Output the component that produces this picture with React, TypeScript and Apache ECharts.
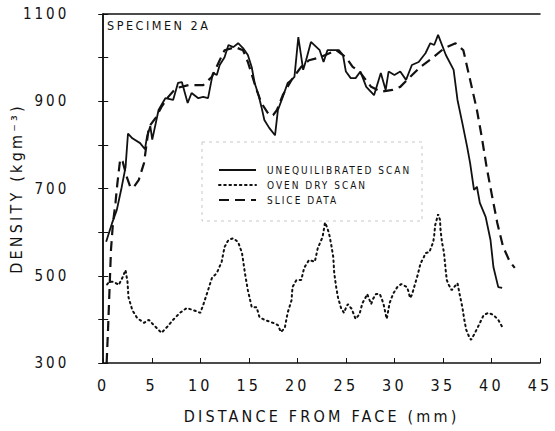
import React, { useEffect, useRef } from "react";
import * as echarts from "echarts";

const seriesNames = ["UNEQUILIBRATED SCAN", "OVEN DRY SCAN", "SLICE DATA"];

const unequilibrated: number[][] = [
  [0.3, 578], [0.9, 620], [1.4, 651], [1.9, 703], [2.3, 749], [2.55, 826], [3.0, 815], [3.8, 804],
  [4.3, 790], [4.5, 818], [4.85, 843], [5.05, 812], [5.7, 880], [6.4, 907], [7.2, 903], [7.7, 942],
  [8.1, 944], [8.7, 896], [9.1, 919], [9.8, 907], [10.3, 910], [10.8, 907], [11.3, 965], [11.7, 960],
  [12.0, 983], [12.5, 1001], [12.9, 1029], [13.4, 1024], [13.9, 1033], [14.4, 1022], [14.9, 1006],
  [15.3, 978], [15.6, 942], [16.0, 914], [16.3, 887], [16.6, 857], [17.1, 839], [17.7, 822],
  [18.0, 880], [18.5, 910], [19.0, 942], [19.4, 949], [19.7, 956], [20.1, 1047], [20.6, 972],
  [20.9, 994], [21.4, 1036], [22.3, 1017], [22.7, 990], [23.1, 1017], [24.3, 1017], [24.7, 1006],
  [25.0, 968], [25.5, 953], [26.0, 953], [26.5, 968], [27.1, 933], [27.9, 914], [28.6, 965],
  [29.1, 926], [29.4, 968], [30.0, 960], [30.6, 968], [31.2, 949], [31.8, 983], [32.5, 990],
  [33.2, 1010], [33.7, 1033], [34.1, 1029], [34.5, 1052], [35.3, 1006], [36.1, 972], [36.5, 903],
  [37.0, 850], [37.5, 795], [37.8, 758], [38.2, 697], [38.5, 704], [38.8, 667], [39.4, 635],
  [39.9, 582], [40.2, 520], [40.7, 474], [41.1, 472],
];

const ovenDry: number[][] = [
  [0.4, 480], [0.6, 486], [1.1, 486], [1.6, 479], [2.05, 499], [2.3, 513], [2.5, 486], [2.6, 451],
  [3.0, 421], [3.5, 403], [4.2, 392], [4.7, 399], [5.2, 387], [5.7, 376], [6.0, 369], [6.6, 383],
  [7.2, 399], [7.9, 415], [8.6, 426], [9.3, 421], [10.0, 415], [10.3, 433], [10.8, 467], [11.2, 495],
  [11.7, 506], [12.2, 532], [12.5, 566], [12.9, 582], [13.4, 586], [13.9, 577], [14.3, 552],
  [14.6, 506], [14.9, 467], [15.3, 428], [15.8, 428], [16.1, 405], [16.6, 399], [17.5, 392],
  [18.0, 387], [18.3, 371], [18.7, 380], [19.0, 415], [19.4, 444], [19.5, 474], [19.9, 490],
  [20.4, 490], [20.7, 518], [21.2, 536], [21.8, 532], [22.1, 563], [22.6, 589], [22.85, 622],
  [23.1, 609], [23.3, 593], [23.5, 570], [23.7, 543], [23.8, 506], [24.0, 474], [24.2, 449],
  [24.5, 426], [24.8, 415], [25.0, 426], [25.2, 435], [25.6, 424], [26.0, 401], [26.4, 412],
  [26.7, 437], [27.0, 449], [27.2, 458], [27.6, 435], [27.8, 447], [28.1, 458], [28.5, 458],
  [28.7, 447], [28.9, 433], [29.1, 412], [29.2, 401], [29.3, 412], [29.5, 437], [29.7, 449],
  [29.9, 460], [30.3, 474], [30.7, 481], [31.3, 474], [31.5, 460], [31.6, 449], [31.8, 456],
  [32.1, 479], [32.4, 502], [32.7, 529], [33.0, 541], [33.2, 552], [33.6, 554], [33.8, 566],
  [34.0, 577], [34.1, 593], [34.2, 616], [34.5, 641], [34.7, 628], [34.75, 605], [34.9, 577],
  [35.1, 554], [35.2, 532], [35.3, 509], [35.4, 490], [35.6, 479], [35.9, 467], [36.5, 483],
  [36.7, 460], [37.0, 428], [37.2, 399], [37.4, 376], [37.7, 360], [37.9, 353], [38.3, 369],
  [38.7, 387], [39.2, 410], [39.7, 415], [40.2, 410], [40.7, 399], [41.1, 383],
];

const sliceData: number[][] = [
  [0.35, 300], [0.5, 380], [0.65, 470], [0.8, 560], [1.0, 620], [1.26, 667], [1.45, 710],
  [1.75, 768], [2.0, 762], [2.4, 728], [2.8, 703], [3.1, 702], [3.65, 719], [4.2, 758], [4.7, 841],
  [5.4, 862], [6.0, 887], [6.7, 910], [7.5, 930], [8.8, 937], [10.3, 937], [11.2, 956], [12.0, 994],
  [12.5, 1017], [13.6, 1024], [14.4, 1017], [14.9, 990], [15.8, 926], [16.3, 896], [17.1, 868],
  [17.5, 868], [17.9, 880], [18.5, 914], [19.4, 949], [20.4, 979], [21.2, 994], [22.4, 1001],
  [24.0, 1017], [25.0, 1001], [25.7, 979], [26.4, 968], [27.6, 933], [28.6, 922], [29.8, 926],
  [30.6, 933], [31.5, 953], [32.7, 979], [33.9, 999], [35.1, 1021], [36.3, 1033], [37.1, 1017],
  [37.8, 949], [38.5, 880], [39.0, 818], [39.5, 749], [40.0, 690], [40.6, 621], [41.2, 566],
  [41.9, 532], [42.4, 518],
];

const FONT = "'DejaVu Sans Condensed', 'DejaVu Sans', sans-serif";
const INK = "#111";

export default function App() {
  const ref = useRef<HTMLDivElement>(null);
  useEffect(() => {
    if (!ref.current) return;
    const chart = echarts.init(ref.current, undefined, { renderer: "svg" });
    const lineBase = { type: "line" as const, showSymbol: false, symbol: "none", silent: true };
    chart.setOption({
      animation: false,
      backgroundColor: "#fff",
      textStyle: { fontFamily: FONT, color: INK },
      grid: { left: 101, right: 15, top: 14, bottom: 68 },
      legend: {
        orient: "vertical",
        left: 213,
        top: 160,
        itemWidth: 37,
        itemHeight: 10,
        itemGap: 5,
        data: seriesNames,
        itemStyle: { opacity: 0 },
        textStyle: { fontFamily: FONT, fontSize: 10, color: INK, padding: [0, 0, 0, 6] },
      },
      xAxis: [
        {
          type: "value",
          min: 0,
          max: 45,
          interval: 5,
          position: "bottom",
          name: "DISTANCE FROM FACE (mm)",
          nameLocation: "middle",
          nameGap: 45,
          nameTextStyle: { fontFamily: FONT, fontSize: 16, color: INK },
          axisLine: { lineStyle: { color: INK, width: 1.5 } },
          axisTick: { inside: true, length: 5, lineStyle: { color: INK } },
          axisLabel: { fontFamily: FONT, fontSize: 16, color: INK, margin: 14 },
          splitLine: { show: false },
        },
        {
          type: "value",
          min: 0,
          max: 45,
          interval: 5,
          position: "top",
          axisLine: { show: true, lineStyle: { color: INK, width: 1.5 } },
          axisTick: { show: false },
          axisLabel: { show: false },
          splitLine: { show: false },
        },
      ],
      yAxis: [
        {
          type: "value",
          min: 300,
          max: 1100,
          interval: 100,
          position: "left",
          name: "DENSITY (kgm\u207B\u00B3)",
          nameLocation: "middle",
          nameRotate: 90,
          nameGap: 70,
          nameTextStyle: { fontFamily: FONT, fontSize: 16, color: INK },
          axisLine: { lineStyle: { color: INK, width: 1.5 } },
          axisTick: { inside: true, length: 5, lineStyle: { color: INK } },
          axisLabel: {
            fontFamily: FONT,
            fontSize: 15,
            color: INK,
            margin: 34,
            formatter: (v: number) => ((v - 300) % 200 === 0 ? String(v) : ""),
          },
          splitLine: { show: false },
        },
        {
          type: "value",
          min: 300,
          max: 1100,
          interval: 100,
          position: "right",
          axisLine: { show: true, lineStyle: { color: INK, width: 1.5 } },
          axisTick: { show: true, inside: true, length: 5, lineStyle: { color: INK } },
          axisLabel: { show: false },
          splitLine: { show: false },
        },
      ],
      graphic: [
        {
          type: "rect",
          shape: { x: 202, y: 142, width: 220, height: 79 },
          style: { fill: "none", stroke: "#c8c8c8", lineWidth: 1, lineDash: [3, 4] },
          z: 1,
        },
        {
          type: "text",
          left: 107,
          top: 19,
          style: { text: "SPECIMEN 2A", fontFamily: FONT, fontSize: 12.5, fill: INK },
          z: 10,
        },
      ],
      series: [
        {
          ...lineBase,
          name: seriesNames[0],
          data: unequilibrated,
          lineStyle: { color: INK, width: 1.8, type: "solid" },
          itemStyle: { color: INK },
        },
        {
          ...lineBase,
          name: seriesNames[1],
          data: ovenDry,
          lineStyle: { color: INK, width: 2, type: [1.6, 3.6], cap: "round" },
          itemStyle: { color: INK },
        },
        {
          ...lineBase,
          name: seriesNames[2],
          data: sliceData,
          lineStyle: { color: INK, width: 2.2, type: [10, 6] },
          itemStyle: { color: INK },
        },
      ],
    });
    return () => chart.dispose();
  }, []);
  return (
    <>
      <style>{`.chart-box text { letter-spacing: 0.2em; }`}</style>
      <div
        className="chart-box"
        ref={ref}
        style={{ position: "absolute", left: 0, top: 0, width: 555, height: 431, background: "#fff" }}
      />
    </>
  );
}
